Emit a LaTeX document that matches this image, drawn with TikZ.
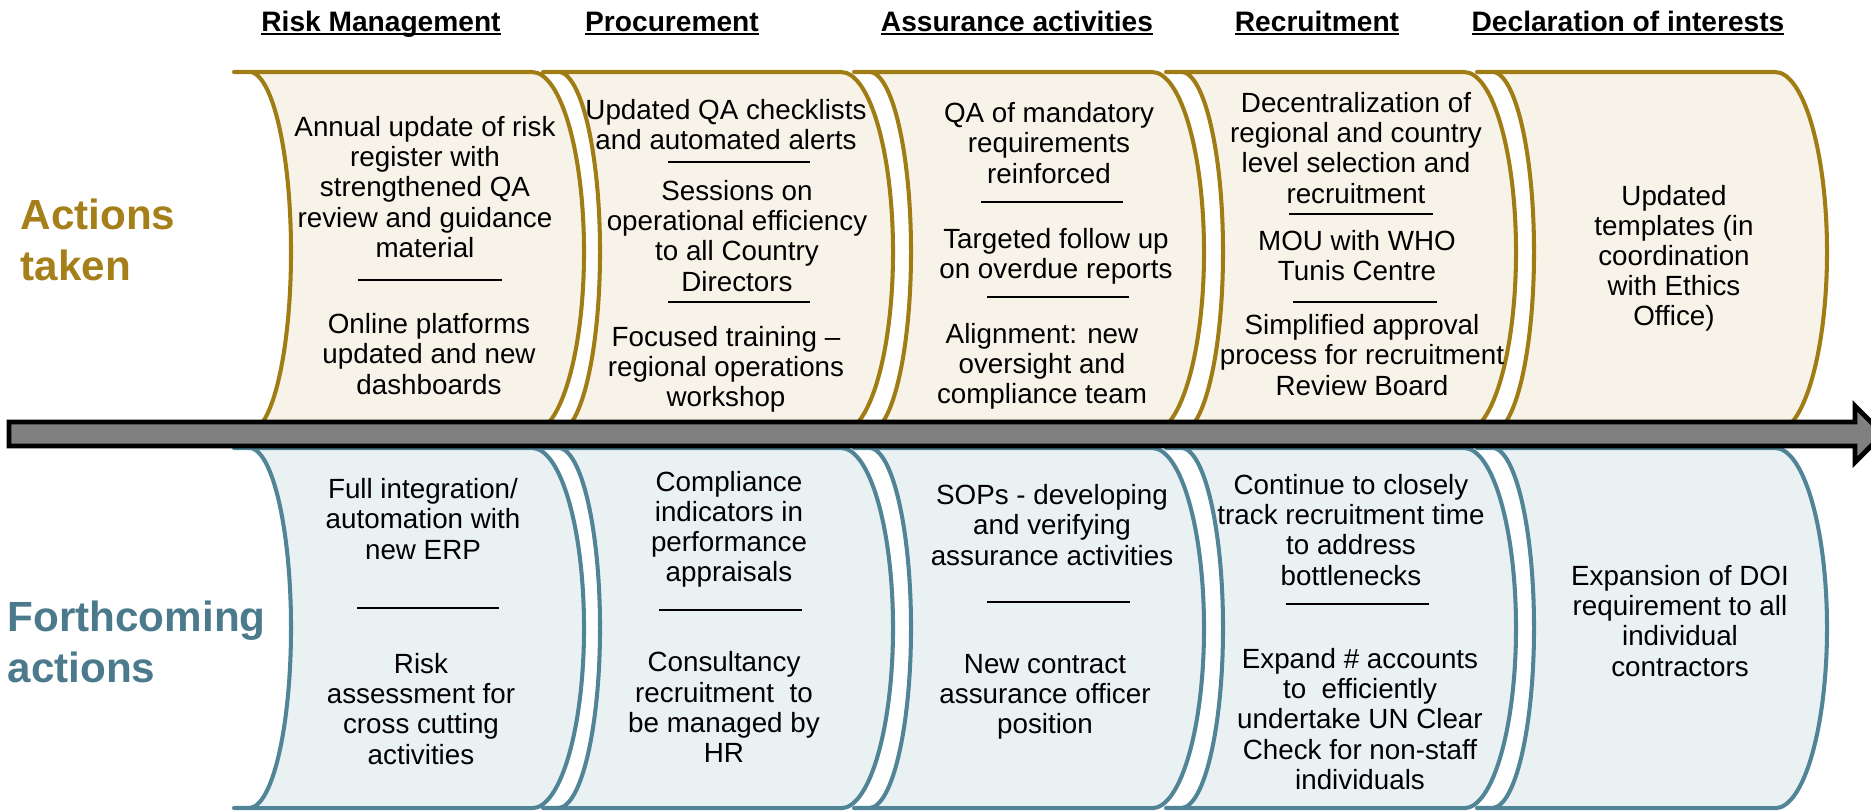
\documentclass[tikz,border=0pt]{standalone}
\usepackage{fontspec}
\setmainfont{Liberation Sans}
\definecolor{gold}{RGB}{160,124,20}
\definecolor{cream}{RGB}{247,243,232}
\definecolor{petrol}{RGB}{80,132,150}
\definecolor{mist}{RGB}{234,241,243}
\definecolor{goldlbl}{RGB}{165,127,26}
\definecolor{petrollbl}{RGB}{74,122,140}
\newcommand{\souligne}[1]{\setbox0=\hbox{#1}\rlap{\rule[-1.2pt]{\wd0}{0.7pt}}\box0}
\begin{document}
\begin{tikzpicture}[x=0.01cm,y=-0.01cm]
\tikzset{drumtop/.style={draw=gold, fill=cream, line width=1.15pt, line join=round},
  drumbot/.style={draw=petrol, fill=mist, line width=1.15pt, line join=round},
  blk/.style={align=center, inner sep=0pt, font=\fontsize{7.9}{8.55}\selectfont},
  rubrique/.style={anchor=base, inner sep=0pt, font=\fontsize{8}{9.6}\selectfont\bfseries},
  etiq/.style={anchor=west, align=left, inner sep=0pt, font=\fontsize{12}{14.5}\selectfont\bfseries},
  trait/.style={line width=0.6pt}}
\useasboundingbox (0,0) rectangle (1871,811);
\clip (0,0) rectangle (1871,811);
% drums, one per column
\foreach \l in {234,543,854,1166,1477} {
  \draw[drumtop] (\l,72) -- ++(298,0) arc[start angle=90, end angle=-90, x radius=0.52cm, y radius=1.8cm]
    -- (\l,432) -- ++(15,0) arc[start angle=-90, end angle=90, x radius=0.42cm, y radius=1.8cm] -- cycle;
  \draw[drumbot] (\l,448) -- ++(298,0) arc[start angle=90, end angle=-90, x radius=0.52cm, y radius=1.8cm]
    -- (\l,808) -- ++(15,0) arc[start angle=-90, end angle=90, x radius=0.42cm, y radius=1.8cm] -- cycle;
}
% time line
\draw[line width=1.4pt, fill=gray] (9,422) -- (1855,422) -- (1855,406) -- (1883,434) -- (1855,462) -- (1855,446) -- (9,446) -- cycle;

\node[rubrique] (h1) at (381,31) {\souligne{Risk Management}};
\node[rubrique] (h2) at (672,31) {\souligne{Procurement}};
\node[rubrique] (h3) at (1017,31) {\souligne{Assurance activities}};
\node[rubrique] (h4) at (1317,31) {\souligne{Recruitment}};
\node[rubrique] (h5) at (1628,31) {\souligne{Declaration of interests}};

\node[etiq, text=goldlbl] (pris) at (20,240) {Actions\\taken};
\node[etiq, text=petrollbl] (avenir) at (7,642) {Forthcoming\\actions};

% actions taken
\node[blk] (t1a) at (425,187) {Annual update of risk\\register with\\strengthened QA\\review and guidance\\material};
\draw[trait] (358,280) -- (502,280);
\node[blk] (t1b) at (429,354) {Online platforms\\updated and new\\dashboards};

\node[blk] (t2a) at (726,125) {Updated QA checklists\\and automated alerts};
\draw[trait] (668,162) -- (810,162);
\node[blk] (t2b) at (737,236) {Sessions on\\operational efficiency\\to all Country\\Directors};
\draw[trait] (668,302) -- (810,302);
\node[blk] (t2c) at (726,369) {Focused training –\\regional operations\\workshop};

\node[blk] (t3a) at (1049,143) {QA of mandatory\\requirements\\reinforced};
\draw[trait] (981,202) -- (1123,202);
\node[blk] (t3b) at (1056,256) {Targeted follow up\\on overdue reports};
\draw[trait] (987,297) -- (1129,297);
\node[blk] (t3c) at (1042,366) {Alignment: new\\oversight and\\compliance team};

\node[blk] (t4a) at (1356,148) {Decentralization of\\regional and country\\level selection and\\recruitment};
\draw[trait] (1289,214) -- (1433,214);
\node[blk] (t4b) at (1357,256) {MOU with WHO\\Tunis Centre};
\draw[trait] (1293,302) -- (1437,302);
\node[blk] (t4c) at (1362,355) {Simplified approval\\process for recruitment\\Review Board};

\node[blk] (t5a) at (1674,258) {Updated\\templates (in\\coordination\\with Ethics\\Office)};

% forthcoming actions
\node[blk] (f1a) at (423,519) {Full integration/\\automation with\\new ERP};
\draw[trait] (357,608) -- (499,608);
\node[blk] (f1b) at (421,709) {Risk\\assessment for\\cross cutting\\activities};

\node[blk] (f2a) at (729,529) {Compliance\\indicators in\\performance\\appraisals};
\draw[trait] (659,610) -- (802,610);
\node[blk] (f2b) at (724,707) {Consultancy\\recruitment\ \ to\\be managed by\\HR};

\node[blk] (f3a) at (1052,525) {SOPs - developing\\and verifying\\assurance activities};
\draw[trait] (987,602) -- (1130,602);
\node[blk] (f3b) at (1045,697) {New contract\\assurance officer\\position};

\node[blk] (f4a) at (1351,530) {Continue to closely\\track recruitment time\\to address\\bottlenecks};
\draw[trait] (1286,604) -- (1429,604);
\node[blk] (f4b) at (1360,719) {Expand \# accounts\\to\ \ efficiently\\undertake UN Clear\\Check for non-staff\\individuals};

\node[blk] (f5a) at (1680,621) {Expansion of DOI\\requirement to all\\individual\\contractors};
\end{tikzpicture}
\end{document}
